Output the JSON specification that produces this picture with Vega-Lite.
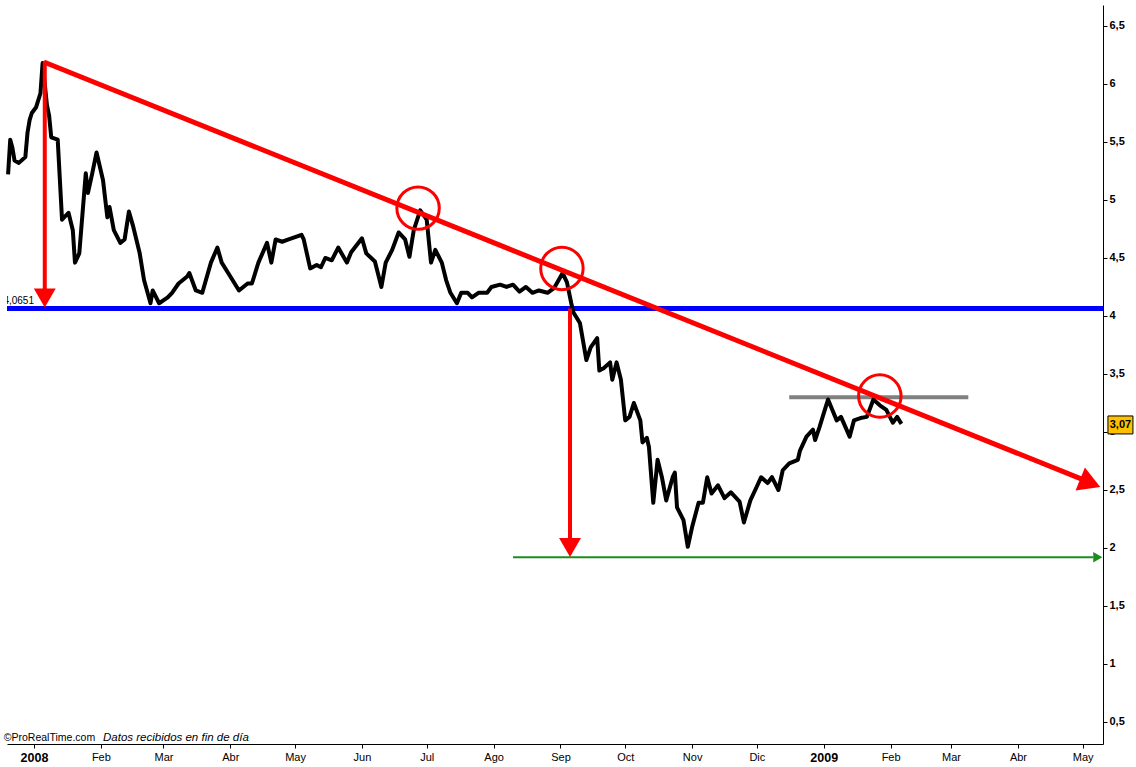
{
  "$schema": "https://vega.github.io/schema/vega-lite/v6.json",
  "width": 1096,
  "height": 739,
  "autosize": {"type": "none"},
  "padding": {"left": 7, "top": 5, "right": 33, "bottom": 23},
  "background": "white",
  "config": {"view": {"stroke": null}, "font": "Liberation Sans"},
  "encoding": {
    "x": {
      "field": "date", "type": "temporal",
      "scale": {"type": "utc", "domain": [{"year": 2007, "month": 12, "date": 19, "hours": 12, "utc": true}, {"year": 2009, "month": 5, "date": 10, "hours": 10, "utc": true}]},
      "axis": {
        "title": null, "grid": false, "orient": "bottom",
        "values": [
          {"year": 2008, "month": 1, "date": 1, "utc": true}, {"year": 2008, "month": 2, "date": 1, "utc": true},
          {"year": 2008, "month": 3, "date": 1, "utc": true}, {"year": 2008, "month": 4, "date": 1, "utc": true},
          {"year": 2008, "month": 5, "date": 1, "utc": true}, {"year": 2008, "month": 6, "date": 1, "utc": true},
          {"year": 2008, "month": 7, "date": 1, "utc": true}, {"year": 2008, "month": 8, "date": 1, "utc": true},
          {"year": 2008, "month": 9, "date": 1, "utc": true}, {"year": 2008, "month": 10, "date": 1, "utc": true},
          {"year": 2008, "month": 11, "date": 1, "utc": true}, {"year": 2008, "month": 12, "date": 1, "utc": true},
          {"year": 2009, "month": 1, "date": 1, "utc": true}, {"year": 2009, "month": 2, "date": 1, "utc": true},
          {"year": 2009, "month": 3, "date": 1, "utc": true}, {"year": 2009, "month": 4, "date": 1, "utc": true},
          {"year": 2009, "month": 5, "date": 1, "utc": true}
        ],
        "labelExpr": "utcmonth(datum.value) == 0 ? utcFormat(datum.value, '%Y') : ['Ene','Feb','Mar','Abr','May','Jun','Jul','Ago','Sep','Oct','Nov','Dic'][utcmonth(datum.value)]",
        "labelFontWeight": {"condition": {"test": "utcmonth(datum.value) == 0", "value": "bold"}, "value": "normal"},
        "labelFontSize": {"condition": {"test": "utcmonth(datum.value) == 0", "value": 12.5}, "value": 11},
        "labelColor": "#000000", "labelFont": "Liberation Sans",
        "domainColor": "#000000", "tickColor": "#000000", "tickSize": 4, "labelPadding": 3, "labelFlush": false, "labelOverlap": false
      }
    },
    "y": {
      "field": "level", "type": "quantitative",
      "scale": {"domain": [0.31, 6.681], "nice": false, "zero": false},
      "axis": {
        "title": null, "grid": false, "orient": "right",
        "values": [0.5, 1, 1.5, 2, 2.5, 3, 3.5, 4, 4.5, 5, 5.5, 6, 6.5],
        "format": ".1~f",
        "labelExpr": "replace(datum.label, '.', ',')",
        "labelFontWeight": "bold", "labelFontSize": 11, "labelColor": "#000000", "labelFont": "Liberation Sans",
        "domainColor": "#000000", "tickColor": "#000000", "tickSize": 4, "labelPadding": 2, "labelFlush": false, "labelOverlap": false
      }
    }
  },
  "layer": [
    {
      "data": {"values": [{"date": "2007-12-19T12:00:00Z", "level": 4.0651}, {"date": "2009-05-10T10:00:00Z", "level": 4.0651}]},
      "mark": {"type": "line", "color": "#0000ff", "strokeWidth": 5}
    },
    {
      "data": {"values": [{"date": "2008-08-10", "level": 1.92}, {"date": "2009-05-06", "level": 1.92}]},
      "mark": {"type": "line", "color": "#1e8c1e", "strokeWidth": 2}
    },
    {
      "data": {"values": [{"date": "2009-05-08", "level": 1.92}]},
      "mark": {"type": "point", "shape": "triangle-right", "filled": true, "color": "#1e8c1e", "size": 110, "opacity": 1}
    },
    {
      "data": {"values": [{"date": "2008-12-16", "level": 3.30}, {"date": "2009-03-09", "level": 3.30}]},
      "mark": {"type": "line", "color": "#808080", "strokeWidth": 4}
    },
    {
      "data": {"values": [
        {"date":"2007-12-20","level":5.22},{"date":"2007-12-21","level":5.52},{"date":"2007-12-22","level":5.45},{"date":"2007-12-23","level":5.34},
        {"date":"2007-12-25","level":5.32},{"date":"2007-12-28","level":5.37},{"date":"2007-12-29","level":5.58},{"date":"2007-12-30","level":5.69},
        {"date":"2007-12-31","level":5.75},{"date":"2008-01-02","level":5.80},{"date":"2008-01-04","level":5.92},{"date":"2008-01-05","level":6.18},
        {"date":"2008-01-07","level":5.82},{"date":"2008-01-08","level":5.73},{"date":"2008-01-09","level":5.54},{"date":"2008-01-12","level":5.52},
        {"date":"2008-01-14","level":4.83},{"date":"2008-01-17","level":4.89},{"date":"2008-01-19","level":4.74},{"date":"2008-01-20","level":4.46},
        {"date":"2008-01-22","level":4.54},{"date":"2008-01-25","level":5.23},{"date":"2008-01-26","level":5.06},{"date":"2008-01-28","level":5.23},
        {"date":"2008-01-30","level":5.41},{"date":"2008-02-02","level":5.17},{"date":"2008-02-04","level":4.85},{"date":"2008-02-05","level":4.94},
        {"date":"2008-02-07","level":4.74},{"date":"2008-02-10","level":4.63},{"date":"2008-02-12","level":4.66},{"date":"2008-02-14","level":4.90},
        {"date":"2008-02-16","level":4.77},{"date":"2008-02-19","level":4.54},{"date":"2008-02-21","level":4.31},{"date":"2008-02-24","level":4.11},
        {"date":"2008-02-25","level":4.22},{"date":"2008-02-28","level":4.11},{"date":"2008-03-03","level":4.16},{"date":"2008-03-05","level":4.20},
        {"date":"2008-03-08","level":4.28},{"date":"2008-03-12","level":4.34},{"date":"2008-03-13","level":4.37},{"date":"2008-03-16","level":4.22},
        {"date":"2008-03-19","level":4.20},{"date":"2008-03-23","level":4.46},{"date":"2008-03-26","level":4.59},{"date":"2008-03-28","level":4.46},
        {"date":"2008-04-01","level":4.34},{"date":"2008-04-05","level":4.22},{"date":"2008-04-09","level":4.28},{"date":"2008-04-11","level":4.28},
        {"date":"2008-04-14","level":4.46},{"date":"2008-04-18","level":4.63},{"date":"2008-04-20","level":4.46},{"date":"2008-04-22","level":4.66},
        {"date":"2008-04-25","level":4.64},{"date":"2008-04-28","level":4.66},{"date":"2008-05-04","level":4.70},{"date":"2008-05-05","level":4.66},
        {"date":"2008-05-08","level":4.41},{"date":"2008-05-11","level":4.44},{"date":"2008-05-13","level":4.42},{"date":"2008-05-15","level":4.50},
        {"date":"2008-05-18","level":4.48},{"date":"2008-05-21","level":4.59},{"date":"2008-05-25","level":4.46},{"date":"2008-05-27","level":4.55},
        {"date":"2008-06-01","level":4.67},{"date":"2008-06-03","level":4.54},{"date":"2008-06-07","level":4.47},{"date":"2008-06-10","level":4.25},
        {"date":"2008-06-12","level":4.46},{"date":"2008-06-15","level":4.57},{"date":"2008-06-18","level":4.72},{"date":"2008-06-21","level":4.66},
        {"date":"2008-06-23","level":4.51},{"date":"2008-06-25","level":4.74},{"date":"2008-06-28","level":4.91},{"date":"2008-07-01","level":4.83},
        {"date":"2008-07-03","level":4.46},{"date":"2008-07-05","level":4.57},{"date":"2008-07-08","level":4.46},{"date":"2008-07-10","level":4.31},
        {"date":"2008-07-12","level":4.20},{"date":"2008-07-15","level":4.11},{"date":"2008-07-17","level":4.20},{"date":"2008-07-20","level":4.20},
        {"date":"2008-07-22","level":4.16},{"date":"2008-07-25","level":4.20},{"date":"2008-07-29","level":4.20},{"date":"2008-07-31","level":4.25},
        {"date":"2008-08-04","level":4.27},{"date":"2008-08-07","level":4.25},{"date":"2008-08-10","level":4.27},{"date":"2008-08-13","level":4.21},
        {"date":"2008-08-16","level":4.25},{"date":"2008-08-19","level":4.20},{"date":"2008-08-22","level":4.22},{"date":"2008-08-26","level":4.20},
        {"date":"2008-08-29","level":4.24},{"date":"2008-09-02","level":4.37},{"date":"2008-09-04","level":4.29},{"date":"2008-09-06","level":4.11},
        {"date":"2008-09-07","level":4.03},{"date":"2008-09-10","level":3.94},{"date":"2008-09-13","level":3.62},{"date":"2008-09-15","level":3.73},
        {"date":"2008-09-18","level":3.81},{"date":"2008-09-19","level":3.53},{"date":"2008-09-21","level":3.55},{"date":"2008-09-24","level":3.60},
        {"date":"2008-09-25","level":3.45},{"date":"2008-09-27","level":3.60},{"date":"2008-09-29","level":3.45},{"date":"2008-10-01","level":3.10},
        {"date":"2008-10-03","level":3.13},{"date":"2008-10-05","level":3.25},{"date":"2008-10-08","level":3.10},{"date":"2008-10-09","level":2.91},
        {"date":"2008-10-11","level":2.95},{"date":"2008-10-12","level":2.87},{"date":"2008-10-14","level":2.39},{"date":"2008-10-16","level":2.76},
        {"date":"2008-10-18","level":2.61},{"date":"2008-10-20","level":2.41},{"date":"2008-10-23","level":2.61},{"date":"2008-10-24","level":2.65},
        {"date":"2008-10-25","level":2.35},{"date":"2008-10-28","level":2.24},{"date":"2008-10-30","level":2.01},{"date":"2008-11-01","level":2.18},
        {"date":"2008-11-04","level":2.39},{"date":"2008-11-06","level":2.39},{"date":"2008-11-08","level":2.61},{"date":"2008-11-10","level":2.47},
        {"date":"2008-11-13","level":2.54},{"date":"2008-11-16","level":2.43},{"date":"2008-11-19","level":2.48},{"date":"2008-11-23","level":2.40},
        {"date":"2008-11-25","level":2.22},{"date":"2008-11-28","level":2.41},{"date":"2008-12-01","level":2.53},{"date":"2008-12-03","level":2.61},
        {"date":"2008-12-06","level":2.56},{"date":"2008-12-08","level":2.61},{"date":"2008-12-11","level":2.50},{"date":"2008-12-13","level":2.67},
        {"date":"2008-12-16","level":2.73},{"date":"2008-12-20","level":2.76},{"date":"2008-12-21","level":2.84},{"date":"2008-12-24","level":2.96},
        {"date":"2008-12-27","level":3.02},{"date":"2008-12-28","level":2.93},{"date":"2008-12-30","level":3.04},{"date":"2009-01-02","level":3.22},
        {"date":"2009-01-03","level":3.28},{"date":"2009-01-05","level":3.19},{"date":"2009-01-07","level":3.10},{"date":"2009-01-09","level":3.13},
        {"date":"2009-01-13","level":2.96},{"date":"2009-01-15","level":3.10},{"date":"2009-01-18","level":3.12},{"date":"2009-01-21","level":3.13},
        {"date":"2009-01-24","level":3.28},{"date":"2009-01-27","level":3.23},{"date":"2009-01-30","level":3.19},{"date":"2009-02-02","level":3.08},
        {"date":"2009-02-04","level":3.13},{"date":"2009-02-06","level":3.07}
      ]},
      "mark": {"type": "line", "color": "#000000", "strokeWidth": 4, "strokeJoin": "round"}
    },
    {
      "data": {"values": [{"date": "2008-01-05T14:00:00Z", "level": 6.19}, {"date": "2009-05-03T18:00:00Z", "level": 2.57}]},
      "mark": {"type": "line", "color": "#ff0000", "strokeWidth": 5}
    },
    {
      "data": {"values": [{"date": "2009-05-04T12:00:00Z", "level": 2.56}]},
      "mark": {"type": "point", "shape": "triangle-right", "angle": 22, "filled": true, "color": "#ff0000", "size": 620, "opacity": 1}
    },
    {
      "data": {"values": [{"date": "2008-01-06", "level": 6.19, "level2": 4.2}, {"date": "2008-09-05T10:00:00Z", "level": 4.0651, "level2": 2.05}]},
      "mark": {"type": "rule", "color": "#ff0000", "strokeWidth": 4},
      "encoding": {"y2": {"field": "level2"}}
    },
    {
      "data": {"values": [{"date": "2008-01-06", "level": 4.155}, {"date": "2008-09-05T10:00:00Z", "level": 2.005}]},
      "mark": {"type": "point", "shape": "triangle-down", "filled": true, "color": "#ff0000", "size": 480, "opacity": 1}
    },
    {
      "data": {"values": [{"date": "2008-06-27", "level": 4.93}, {"date": "2008-09-01T16:00:00Z", "level": 4.41}, {"date": "2009-01-27", "level": 3.31}]},
      "mark": {"type": "point", "shape": "circle", "filled": false, "color": "#ff0000", "strokeWidth": 3, "size": 1800, "opacity": 1}
    },
    {
      "data": {"values": [{"date": "2008-01-01", "level": 4.13, "label": "4,0651"}]},
      "mark": {"type": "text", "align": "right", "baseline": "middle", "fontSize": 10, "color": "#000000", "clip": true},
      "encoding": {"text": {"field": "label"}}
    },
    {
      "data": {"values": [{"date": "2007-12-18", "level": 0.365, "label": "©ProRealTime.com"}]},
      "mark": {"type": "text", "align": "left", "baseline": "middle", "fontSize": 10.5, "color": "#000000"},
      "encoding": {"text": {"field": "label"}}
    },
    {
      "data": {"values": [{"date": "2008-02-02", "level": 0.365, "label": "Datos recibidos en fin de día"}]},
      "mark": {"type": "text", "align": "left", "baseline": "middle", "fontSize": 11.5, "fontStyle": "italic", "color": "#000000"},
      "encoding": {"text": {"field": "label"}}
    },
    {
      "data": {"values": [{"date": "2009-05-12T17:00:00Z", "date2": "2009-05-24T07:00:00Z", "level": 3.138, "level2": 2.983}]},
      "mark": {"type": "rect", "fill": "#ffc000", "stroke": "#000000", "strokeWidth": 1},
      "encoding": {"x2": {"field": "date2"}, "y2": {"field": "level2"}}
    },
    {
      "data": {"values": [{"date": "2009-05-18T12:00:00Z", "level": 3.06, "label": "3,07"}]},
      "mark": {"type": "text", "align": "center", "baseline": "middle", "fontSize": 11, "fontWeight": "bold", "color": "#000000"},
      "encoding": {"text": {"field": "label"}}
    }
  ]
}
